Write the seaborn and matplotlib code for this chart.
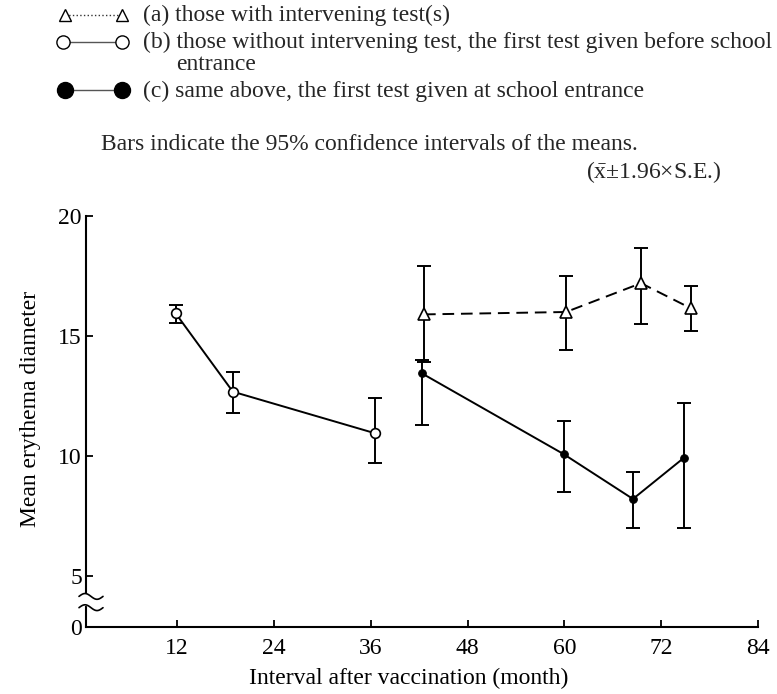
import numpy as np
import matplotlib
matplotlib.use("Agg")
import matplotlib.pyplot as plt
import seaborn as sns
from matplotlib.lines import Line2D

# ---- data ----
a_month = [42.6, 60.2, 69.5, 75.7]
a_mean = [15.9, 16.0, 17.2, 16.15]
a_low = [13.9, 14.4, 15.5, 15.2]
a_high = [17.9, 17.5, 18.65, 17.1]

b_month = [11.8, 18.9, 36.5]
b_mean = [15.95, 12.68, 10.95]
b_low = [15.53, 11.8, 9.72]
b_high = [16.3, 13.5, 12.4]

c_month = [42.3, 59.9, 68.5, 74.8]
c_mean = [13.45, 10.08, 8.21, 9.92]
c_low = [11.28, 8.49, 7.01, 7.01]
c_high = [14.0, 11.47, 9.32, 12.2]

x_ticks = [12, 24, 36, 48, 60, 72, 84]
y_ticks = [0, 5, 10, 15, 20]

legend_a = "(a) those with intervening test(s)"
legend_b = "(b) those without intervening test, the first test given before school"
legend_b2 = "entrance"
legend_c = "(c) same above, the first test given at school entrance"
note1 = "Bars indicate the 95% confidence intervals of the means."
note2 = r"($\bar{\mathrm{x}}$±1.96×S.E.)"
x_label = "Interval after vaccination (month)"
y_label = "Mean erythema diameter"

# ---- style ----
sns.set_theme(style="ticks")
plt.rcParams['font.family'] = ['Liberation Serif', 'DejaVu Serif']
plt.rcParams['mathtext.fontset'] = 'custom'
plt.rcParams['mathtext.rm'] = 'Liberation Serif'
plt.rcParams['mathtext.it'] = 'Liberation Serif:italic'

W, H = 777, 694
fig = plt.figure(figsize=(W / 100, H / 100), dpi=100)
fig.patch.set_facecolor('white')

ax_l, ax_r, ax_t, ax_b = 86, 758, 216, 627
ax = fig.add_axes([ax_l / W, 1 - ax_b / H, (ax_r - ax_l) / W, (ax_b - ax_t) / H])
ax.set_facecolor('white')

Y0 = 2.875  # position where the broken axis shows "0"
ax.set_xlim(0.7, 84)
ax.set_ylim(Y0, 20)

lw = 1.4
# error bars
for xs, m, lo, hi in [(a_month, a_mean, a_low, a_high),
                      (b_month, b_mean, b_low, b_high),
                      (c_month, c_mean, c_low, c_high)]:
    m_ = np.array(m)
    ax.errorbar(xs, m, yerr=[m_ - np.array(lo), np.array(hi) - m_], fmt='none',
                ecolor='black', elinewidth=lw, capsize=5, capthick=lw, zorder=2)

# series
sns.lineplot(x=b_month, y=b_mean, ax=ax, color='black', lw=lw, marker='o', ms=7,
             mfc='white', mec='black', mew=1.2, estimator=None, sort=False, zorder=3)
sns.lineplot(x=a_month, y=a_mean, ax=ax, color='black', lw=lw, linestyle=(0, (6, 3.5)),
             marker='^', ms=8.5, mfc='white', mec='black', mew=1.2, estimator=None,
             sort=False, zorder=3)
sns.lineplot(x=c_month, y=c_mean, ax=ax, color='black', lw=lw, marker='o', ms=5.5,
             mfc='black', mec='black', estimator=None, sort=False, zorder=3)

fs = 17

# axes / ticks
sns.despine(ax=ax)
for sp in ['left', 'bottom']:
    ax.spines[sp].set_linewidth(1.5)
    ax.spines[sp].set_color('black')
ax.set_xticks(x_ticks)
ax.set_xticklabels([str(v) for v in x_ticks])
ax.set_yticks([Y0 if v == 0 else v for v in y_ticks])
ax.set_yticklabels([str(v) for v in y_ticks])
ax.tick_params(axis='both', direction='in', length=5, width=1.3, colors='black',
               labelsize=fs)
ax.tick_params(axis='x', pad=8)
ax.tick_params(axis='y', pad=3)
ax.grid(False)

ax.set_xlabel(x_label, fontsize=fs, color='black')
ax.set_ylabel(y_label, fontsize=fs, color='black')
ax.xaxis.set_label_coords((409 - ax_l) / (ax_r - ax_l), (ax_b - 668) / (ax_b - ax_t))
ax.xaxis.label.set_va('top')
ax.yaxis.set_label_coords((41 - ax_l) / (ax_r - ax_l), (ax_b - 409) / (ax_b - ax_t))

# axis break marks
t = np.linspace(0, 1, 60)
bx = (-7 + 24 * t) / (ax_r - ax_l)
y1 = 4.15 + 0.12 * np.sin(2 * np.pi * t)
y2 = 3.68 + 0.12 * np.sin(2 * np.pi * t)
tr = ax.get_yaxis_transform()
ax.fill_between(bx, y2, y1, color='white', transform=tr, clip_on=False, zorder=5)
ax.plot(bx, y1, color='black', lw=1.2, transform=tr, clip_on=False, zorder=6)
ax.plot(bx, y2, color='black', lw=1.2, transform=tr, clip_on=False, zorder=6)

# ---- legend drawn manually at the top ----
def fx(px):
    return px / W

def fy(py):
    return 1 - py / H

fig.add_artist(Line2D([fx(65), fx(122)], [fy(15), fy(15)], ls=':', lw=1, color='#333333',
                      marker='^', ms=8, mfc='white', mec='black', mew=1,
                      transform=fig.transFigure))
fig.add_artist(Line2D([fx(63), fx(122)], [fy(42), fy(42)], ls='-', lw=1, color='#555555',
                      marker='o', ms=9.5, mfc='white', mec='black', mew=1,
                      transform=fig.transFigure))
fig.add_artist(Line2D([fx(65), fx(122)], [fy(90), fy(90)], ls='-', lw=1, color='#555555',
                      marker='o', ms=11.5, mfc='black', mec='black',
                      transform=fig.transFigure))

fig.text(fx(143), fy(15), legend_a, fontsize=fs, va='center', ha='left')
fig.text(fx(143), fy(42), legend_b, fontsize=fs, va='center', ha='left')
fig.text(fx(176), fy(64), legend_b2, fontsize=fs, va='center', ha='left')
fig.text(fx(143), fy(91), legend_c, fontsize=fs, va='center', ha='left')
fig.text(fx(101), fy(144), note1, fontsize=fs, va='center', ha='left')
fig.text(fx(722), fy(172), note2, fontsize=fs, va='center', ha='right')

fig.savefig('out.png', dpi=100, facecolor='white')
